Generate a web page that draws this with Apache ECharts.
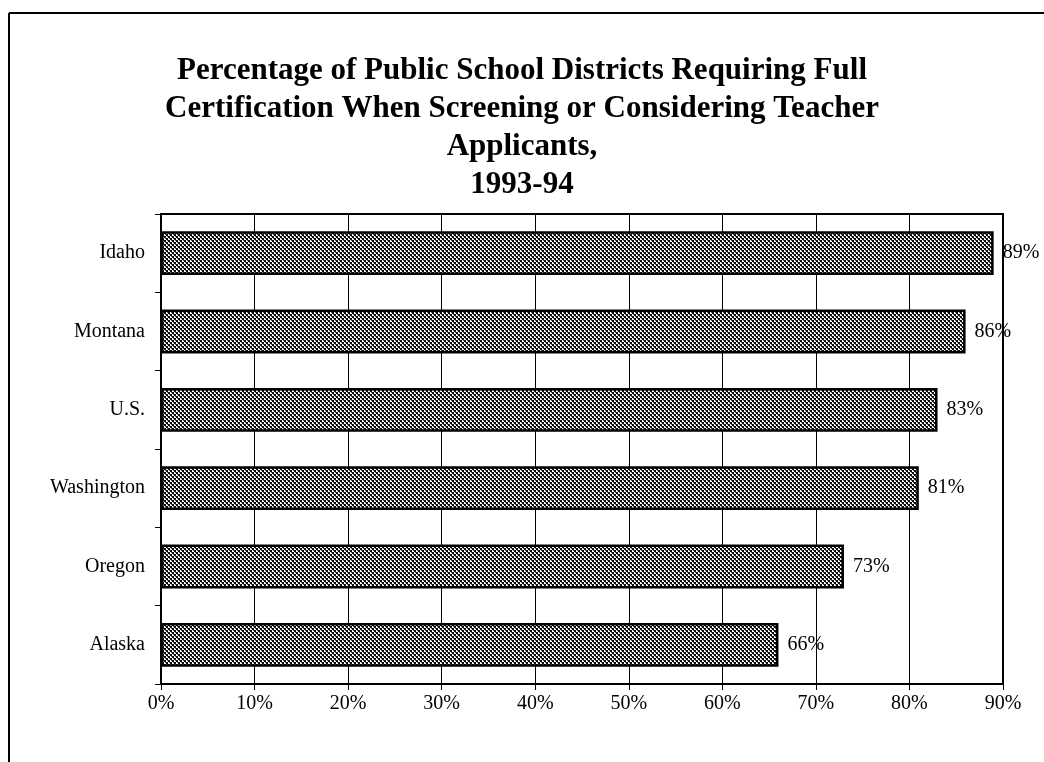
<!DOCTYPE html>
<html>
<head>
<meta charset="utf-8">
<script src="https://cdn.jsdelivr.net/npm/echarts@6/dist/echarts.min.js"></script>
<style>
  html, body { margin: 0; padding: 0; background: #fff; }
  #chart { width: 1044px; height: 762px; }
</style>
</head>
<body>
<div id="chart"></div>
<script>
// States, listed top to bottom
const states = ['Idaho', 'Montana', 'U.S.', 'Washington', 'Oregon', 'Alaska'];
// Percent of districts requiring full certification
const percentRequiring = [89, 86, 83, 81, 73, 66];
// Horizontal axis ticks (percent)
const axisMin = 0;
const axisMax = 90;
const axisStep = 10;

const titleText = 'Percentage of Public School Districts Requiring Full\n' +
  'Certification When Screening or Considering Teacher\n' +
  'Applicants,\n1993-94';

// Halftone-style checker fill for the bars
function makeChecker() {
  const c = document.createElement('canvas');
  c.width = 4; c.height = 4;
  const g = c.getContext('2d');
  g.fillStyle = '#ffffff';
  g.fillRect(0, 0, 4, 4);
  g.fillStyle = '#0a0a0a';
  g.fillRect(0, 0, 2, 2);
  g.fillRect(2, 2, 2, 2);
  g.fillStyle = '#555555';
  g.fillRect(1, 2, 1, 1);
  g.fillRect(3, 0, 1, 1);
  return c;
}

const serif = '"Liberation Serif", "Times New Roman", serif';
const chart = echarts.init(document.getElementById('chart'));

chart.setOption({
  animation: false,
  backgroundColor: '#ffffff',
  title: {
    text: titleText,
    left: 'center',
    top: 47,
    textStyle: {
      fontFamily: serif,
      fontWeight: 'bold',
      fontSize: 31,
      lineHeight: 38,
      color: '#000'
    }
  },
  graphic: [
    { type: 'line', shape: { x1: 9, y1: 13, x2: 1044, y2: 13 }, style: { stroke: '#000', lineWidth: 2 } },
    { type: 'line', shape: { x1: 9, y1: 13, x2: 9, y2: 762 }, style: { stroke: '#000', lineWidth: 2 } }
  ],
  grid: {
    left: 161,
    right: 41,
    top: 214,
    bottom: 78,
    show: true,
    borderColor: '#000',
    borderWidth: 2,
    backgroundColor: 'transparent'
  },
  xAxis: {
    type: 'value',
    min: axisMin,
    max: axisMax,
    interval: axisStep,
    axisLine: { show: true, lineStyle: { color: '#000', width: 2 } },
    axisTick: { show: true, length: 6, lineStyle: { color: '#000', width: 1 } },
    splitLine: { show: true, lineStyle: { color: '#000', width: 1 } },
    axisLabel: {
      formatter: '{value}%',
      fontFamily: serif,
      fontSize: 20,
      color: '#000',
      margin: 10
    }
  },
  yAxis: {
    type: 'category',
    data: states,
    inverse: true,
    axisLine: { show: true, lineStyle: { color: '#000', width: 2 } },
    axisTick: { show: true, length: 6, lineStyle: { color: '#000', width: 1 } },
    axisLabel: {
      fontFamily: serif,
      fontSize: 20,
      color: '#000',
      margin: 16
    }
  },
  series: [{
    type: 'bar',
    data: percentRequiring,
    barWidth: '56%',
    itemStyle: {
      color: { image: makeChecker(), repeat: 'repeat' },
      borderColor: '#000',
      borderWidth: 2.5
    },
    label: {
      show: true,
      position: 'right',
      distance: 9,
      formatter: '{c}%',
      fontFamily: serif,
      fontSize: 20,
      color: '#000'
    }
  }]
});
</script>
</body>
</html>
